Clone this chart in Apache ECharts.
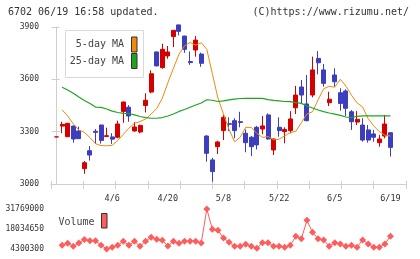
<!DOCTYPE html>
<html>
<head>
<meta charset="utf-8">
<script src="https://cdn.jsdelivr.net/npm/echarts@6/dist/echarts.min.js"></script>
<style>
html,body{margin:0;padding:0;background:#fff;}
#chart{width:420px;height:259px;}
</style>
</head>
<body>
<div id="chart"></div>
<script>
// trading days shown (2020)
var dates = ['3/23','3/24','3/25','3/26','3/27','3/30','3/31','4/1','4/2','4/3',
  '4/6','4/7','4/8','4/9','4/10','4/13','4/14','4/15','4/16','4/17',
  '4/20','4/21','4/22','4/23','4/24','4/27','4/28','4/30','5/1','5/7',
  '5/8','5/11','5/12','5/13','5/14','5/15','5/18','5/19','5/20','5/21',
  '5/22','5/25','5/26','5/27','5/28','5/29','6/1','6/2','6/3','6/4',
  '6/5','6/8','6/9','6/10','6/11','6/12','6/15','6/16','6/17','6/18','6/19'];

var opens = [3270,3332,3271,3332,3304, 3088,3191,3302,3338,3272,
  3270,3268,3415,3440,3304, 3298,3450,3527,3757,3667,
  3734,3845,3912,3848,3702, 3768,3745,3275,3138,3214,
  3306,3346,3363,3357,3291, 3268,3325,3315,3396,3195,
  3325,3300,3306,3437,3556, 3459,3510,3720,3654,3466,
  3625,3523,3533,3414,3355, 3338,3310,3287,3237,3275, 3294];
var closes = [3270,3342,3348,3258,3260, 3122,3166,3296,3250,3277,
  3257,3344,3470,3390,3327, 3336,3480,3632,3677,3772,
  3757,3881,3875,3772,3696, 3825,3692,3176,3071,3241,
  3382,3342,3306,3353,3237, 3214,3224,3333,3258,3258,
  3306,3313,3373,3510,3510, 3363,3654,3695,3577,3486,
  3586,3462,3434,3357,3371, 3252,3252,3268,3258,3344, 3210];
var lows = [3270,3291,3270,3237,3258, 3059,3134,3230,3232,3270,
  3230,3262,3351,3357,3300, 3290,3410,3520,3675,3661,
  3718,3785,3852,3752,3683, 3730,3672,3128,3013,3172,
  3252,3304,3262,3325,3182, 3160,3198,3285,3255,3166,
  3271,3233,3291,3401,3459, 3360,3497,3629,3558,3447,
  3558,3420,3390,3310,3338, 3243,3237,3243,3214,3262, 3157];
var highs = [3270,3357,3350,3335,3329, 3132,3218,3315,3340,3323,
  3291,3363,3472,3452,3355, 3340,3520,3652,3760,3804,
  3791,3883,3914,3850,3760, 3848,3753,3280,3150,3248,
  3396,3382,3377,3414,3313, 3275,3333,3390,3405,3260,
  3382,3325,3418,3562,3596, 3625,3730,3762,3688,3529,
  3663,3549,3543,3424,3418, 3377,3338,3310,3281,3396, 3296];

var ma5 = [null,3425,3390,3345,3310, 3296,3266,3231,3220,3219,
  3222,3249,3285,3320,3348, 3358,3373,3401,3433,3491,
  3580,3664,3744,3792,3811, 3796,3810,3772,3632,3492,
  3401,3312,3242,3268,3325, 3324,3290,3267,3272,3253,
  3257,3276,3294,3302,3352, 3402,3414,3482,3546,3560,
  3555,3600,3561,3509,3465, 3442,3375,3333,3300,3280, 3275];
var ma25 = [null,3555,3539,3520,3499, 3479,3462,3441,3439,3430,
  3418,3410,3405,3404,3396, 3387,3381,3377,3377,3381,
  3390,3401,3416,3427,3440, 3453,3464,3483,3480,3473,
  3476,3482,3487,3490,3491, 3491,3491,3491,3484,3479,
  3476,3473,3472,3467,3462, 3447,3436,3424,3415,3407,
  3401,3393,3384,3381,3388, 3390,3390,3390,3390,3390, 3390];

var volumes = [null,6840000,8210000,6150000,8420000,
  10800000,10000000,10000000,6840000,4300300,
  5470000,6840000,9590000,6840000,9590000,
  6150000,9590000,12330000,10960000,10270000,
  6360000,9590000,8210000,9590000,9590000,
  9590000,8420000,31769000,17830000,17140000,
  11850000,8900000,6150000,6150000,7530000,
  6150000,4780000,8630000,8630000,6150000,
  6150000,5470000,6840000,13020000,11370000,
  24010000,15770000,11370000,10480000,6150000,
  8630000,7730000,6150000,6840000,5470000,
  10480000,7730000,5470000,5470000,7730000, 13020000];

var dateLabelIdx = [10,20,30,40,50,60];
var volTicks = [4300300,18034650,31769000];

var mono = '"DejaVu Sans Mono", "Liberation Mono", monospace';
var axisGray = '#cfcfcf';
var xMin = -1, xMax = 62.8;

// weekly grid ticks: 11 equal steps across the plot
var gridTicks = [];
for (var k = 0; k <= 11; k++) gridTicks.push(xMin + k * (xMax - xMin) / 11);

var candles = opens.map(function (o, i) { return [i, o, closes[i], lows[i], highs[i]]; });
var ma5Data = ma5.map(function (v, i) { return [i, v == null ? '-' : v]; });
var ma25Data = ma25.map(function (v, i) { return [i, v == null ? '-' : v]; });
var volData = volumes.map(function (v, i) { return [i, v == null ? '-' : v]; });

var chart = echarts.init(document.getElementById('chart'));

var option = {
  animation: false,
  backgroundColor: '#fff',
  grid: [
    {left: 51, right: 14, top: 27, bottom: 75, outerBoundsMode: 'none'},
    {left: 51, right: 14, top: 209, bottom: 10, outerBoundsMode: 'none'}
  ],
  xAxis: [
    {gridIndex: 0, type: 'value', min: xMin, max: xMax,
      axisLine: {show: true, lineStyle: {color: axisGray}},
      axisTick: {show: true, customValues: gridTicks, length: 5, lineStyle: {color: axisGray}},
      axisLabel: {customValues: dateLabelIdx, margin: 10, fontSize: 8.5, fontFamily: mono, color: '#333',
        formatter: function (v) { return dates[Math.round(v)]; }},
      splitLine: {show: false}},
    {gridIndex: 0, type: 'value', min: xMin, max: xMax, position: 'bottom',
      axisLine: {show: false},
      axisTick: {show: true, inside: true, customValues: gridTicks, length: 3, lineStyle: {color: axisGray}},
      axisLabel: {show: false}, splitLine: {show: false}},
    {gridIndex: 1, type: 'value', min: xMin, max: xMax, show: false}
  ],
  yAxis: [
    {gridIndex: 0, type: 'value', min: 3000, max: 3900, interval: 300,
      axisLine: {show: true, lineStyle: {color: axisGray}},
      axisTick: {show: true, length: 5, lineStyle: {color: axisGray}},
      axisLabel: {margin: 12, fontSize: 8, fontFamily: mono, color: '#333',
        formatter: function (v) { return String(v); }},
      splitLine: {show: false}},
    {gridIndex: 0, type: 'value', min: 3000, max: 3900, interval: 300, position: 'left',
      axisLine: {show: false},
      axisTick: {show: true, inside: true, length: 3, lineStyle: {color: axisGray}},
      axisLabel: {show: false}, splitLine: {show: false}},
    {gridIndex: 1, type: 'value', min: volTicks[0], max: volTicks[2],
      axisLine: {show: false}, axisTick: {show: false},
      axisLabel: {customValues: volTicks, margin: 7, fontSize: 8, fontFamily: mono, color: '#333',
        formatter: function (v) { return String(v); }},
      splitLine: {show: false}}
  ],
  series: [
    {type: 'candlestick', name: 'price', xAxisIndex: 0, yAxisIndex: 0,
      data: candles, encode: {x: 0, y: [1, 2, 3, 4]},
      barWidth: 4.5, clip: false,
      itemStyle: {color: '#d40000', color0: '#3d3dbf', borderColor: '#d40000', borderColor0: '#3d3dbf', borderWidth: 1}},
    {type: 'line', name: '5-day MA', xAxisIndex: 0, yAxisIndex: 0, data: ma5Data,
      showSymbol: false, symbol: 'none', z: 3,
      lineStyle: {color: '#f08a0c', width: 1}},
    {type: 'line', name: '25-day MA', xAxisIndex: 0, yAxisIndex: 0, data: ma25Data,
      showSymbol: false, symbol: 'none', z: 3,
      lineStyle: {color: '#1ea51e', width: 1.2}},
    {type: 'line', name: 'Volume', xAxisIndex: 2, yAxisIndex: 2, data: volData,
      symbol: 'diamond', symbolSize: 7, clip: false,
      itemStyle: {color: '#ff5c5c'},
      lineStyle: {color: '#ff5c5c', width: 1}}
  ],
  graphic: [
    {type: 'text', x: 8, y: 12.5, style: {text: '6702 06/19 16:58 updated.', font: '10px ' + mono, fill: '#333', textVerticalAlign: 'middle'}},
    {type: 'text', x: 409, y: 12.5, style: {text: '(C)https://www.rizumu.net/', font: '10px ' + mono, fill: '#333', textAlign: 'right', textVerticalAlign: 'middle'}},
    {type: 'rect', shape: {x: 65.5, y: 30.5, width: 78, height: 47}, style: {fill: '#fff', stroke: '#d8d8d8', lineWidth: 1}, z: 10},
    {type: 'text', x: 124, y: 44.7, style: {text: '5-day MA', font: '10px ' + mono, fill: '#444', textAlign: 'right', textVerticalAlign: 'middle'}, z: 11},
    {type: 'rect', shape: {x: 131.5, y: 37, width: 5.5, height: 15}, style: {fill: '#f08a0c', stroke: '#333', lineWidth: 1}, z: 11},
    {type: 'text', x: 124, y: 61.3, style: {text: '25-day MA', font: '10px ' + mono, fill: '#444', textAlign: 'right', textVerticalAlign: 'middle'}, z: 11},
    {type: 'rect', shape: {x: 131.5, y: 53.5, width: 5.5, height: 15}, style: {fill: '#1ea51e', stroke: '#333', lineWidth: 1}, z: 11},
    {type: 'text', x: 94.5, y: 222, style: {text: 'Volume', font: '10px ' + mono, fill: '#444', textAlign: 'right', textVerticalAlign: 'middle'}, z: 11},
    {type: 'rect', shape: {x: 101.5, y: 213.5, width: 5.5, height: 14.5}, style: {fill: '#ff5c5c', stroke: '#333', lineWidth: 1}, z: 11}
  ]
};

chart.setOption(option);
</script>
</body>
</html>
